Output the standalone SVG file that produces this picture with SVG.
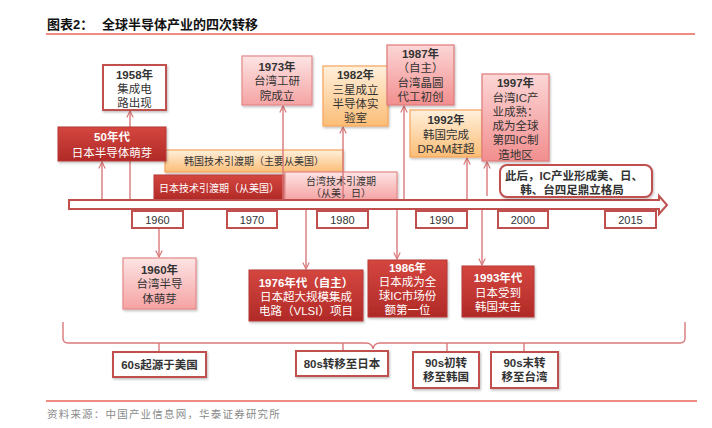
<svg xmlns="http://www.w3.org/2000/svg" width="712" height="428" viewBox="0 0 712 428">
<defs>
<linearGradient id="gDark" x1="0" y1="0" x2="0" y2="1"><stop offset="0" stop-color="#d4463f"/><stop offset="1" stop-color="#b02a27"/></linearGradient>
<linearGradient id="gPink" x1="0" y1="0" x2="0" y2="1"><stop offset="0" stop-color="#fde4e4"/><stop offset="1" stop-color="#f5a3a3"/></linearGradient>
<linearGradient id="gPink2" x1="0" y1="0" x2="0" y2="1"><stop offset="0" stop-color="#fcd6d6"/><stop offset="1" stop-color="#f28e8e"/></linearGradient>
<linearGradient id="gOrange" x1="0" y1="0" x2="0" y2="1"><stop offset="0" stop-color="#fff0dc"/><stop offset="1" stop-color="#fbbd76"/></linearGradient>
<filter id="sh" x="-10%" y="-10%" width="130%" height="140%"><feDropShadow dx="1" dy="1.5" stdDeviation="1" flood-color="#000" flood-opacity="0.25"/></filter>
<marker id="arr" viewBox="0 0 10 10" refX="9" refY="5" markerWidth="8" markerHeight="8" markerUnits="userSpaceOnUse" orient="auto"><path d="M1,1 L9,5 L1,9" fill="none" stroke="#d9787a" stroke-width="1.5"/></marker>
<style>
text{font-family:"Liberation Sans","Noto Sans CJK SC",sans-serif;text-anchor:middle;}
.t{font-size:11.5px;fill:#333;}
.w{font-size:11.5px;fill:#fff;}
.s{font-size:10px;fill:#333;}
.sw{font-size:10px;fill:#fff;}
.b{font-weight:bold;}
.dark{fill:url(#gDark);stroke:#b53a36;stroke-width:1;filter:url(#sh);}
.pink{fill:url(#gPink);stroke:#e5898a;stroke-width:1.2;filter:url(#sh);}
.pink2{fill:url(#gPink2);stroke:#e07a7c;stroke-width:1.2;filter:url(#sh);}
.orange{fill:url(#gOrange);stroke:#f5a55c;stroke-width:1.2;filter:url(#sh);}
.white{fill:#fff;stroke:#c0504d;stroke-width:2;filter:url(#sh);}
.yr{fill:#fff;stroke:#c0504d;stroke-width:2;}
.ln{fill:none;stroke:#d9787a;stroke-width:1.4;}
.yt{font-size:11px;fill:#333;}
</style>
</defs>
<rect width="712" height="428" fill="#fff"/>

<g id="title">
<text x="47" y="29" style="text-anchor:start;font-size:13px;font-weight:bold;fill:#111">图表2：</text>
<text x="102" y="29" style="text-anchor:start;font-size:13px;font-weight:bold;fill:#111">全球半导体产业的四次转移</text>
<line x1="46" y1="34" x2="695" y2="34" stroke="#e8665a" stroke-width="1.5"/>
</g>

<g id="bar-korea">
<rect class="orange" x="165" y="150" width="178" height="22"/>
<text class="s" x="254" y="165">韩国技术引渡期（主要从美国）</text>
</g>
<g id="bar-japan">
<rect class="dark" x="154" y="175" width="130" height="25"/>
<text class="sw" x="219" y="192">日本技术引渡期（从美国）</text>
</g>
<g id="bar-taiwan">
<rect class="pink" x="285" y="172" width="112" height="28"/>
<text class="s" x="341" y="185">台湾技术引渡期</text>
<text class="s" x="341" y="197">（从美，日）</text>
</g>

<g id="connectors">
<line class="ln" x1="102" y1="200" x2="102" y2="162" marker-end="url(#arr)"/>
<line class="ln" x1="130" y1="200" x2="130" y2="111" marker-end="url(#arr)"/>
<line class="ln" x1="283" y1="200" x2="283" y2="106" marker-end="url(#arr)"/>
<line class="ln" x1="343" y1="200" x2="343" y2="127" marker-end="url(#arr)"/>
<line class="ln" x1="404" y1="200" x2="404" y2="106" marker-end="url(#arr)"/>
<line class="ln" x1="467" y1="200" x2="467" y2="158" marker-end="url(#arr)"/>
<line class="ln" x1="487" y1="196" x2="487" y2="162" marker-end="url(#arr)"/>
<line class="ln" x1="159" y1="209" x2="159" y2="257" marker-end="url(#arr)"/>
<line class="ln" x1="306" y1="209" x2="306" y2="269" marker-end="url(#arr)"/>
<line class="ln" x1="397" y1="209" x2="397" y2="259" marker-end="url(#arr)"/>
<line class="ln" x1="482" y1="205" x2="482" y2="265" marker-end="url(#arr)"/>
<path class="ln" d="M63,322 L63,338 Q63,343 68,343 L366,343 Q372,343 373,349 Q374,343 380,343 L680,343 Q685,343 685,338 L685,322"/>
<line class="ln" x1="159" y1="343" x2="159" y2="352"/>
<line class="ln" x1="343" y1="343" x2="343" y2="351"/>
<line class="ln" x1="447" y1="343" x2="447" y2="352"/>
<line class="ln" x1="524" y1="343" x2="524" y2="352"/>
</g>

<g id="timeline">
<path d="M69,200 L659,200 L659,196 L667,205 L659,214 L659,209 L69,209 Z" fill="#fff" stroke="#c0504d" stroke-width="2" stroke-linejoin="miter"/>
<rect class="yr" x="132" y="211" width="51" height="17"/><text class="yt" x="157.5" y="224">1960</text>
<rect class="yr" x="227" y="211" width="50" height="17"/><text class="yt" x="252" y="224">1970</text>
<rect class="yr" x="317" y="211" width="51" height="17"/><text class="yt" x="342.5" y="224">1980</text>
<rect class="yr" x="416" y="211" width="51" height="17"/><text class="yt" x="441.5" y="224">1990</text>
<rect class="yr" x="498" y="211" width="50" height="17"/><text class="yt" x="523" y="224">2000</text>
<rect class="yr" x="605" y="211" width="51" height="17"/><text class="yt" x="630.5" y="224">2015</text>
</g>

<g id="n1958">
<rect class="white" x="103" y="65" width="63" height="45"/>
<text class="t b" x="134.5" y="79">1958年</text>
<text class="t" x="134.5" y="93">集成电</text>
<text class="t" x="134.5" y="107">路出现</text>
</g>
<g id="n50s">
<rect class="dark" x="58" y="127" width="108" height="34"/>
<text class="w b" x="112" y="141">50年代</text>
<text class="w" x="112" y="157">日本半导体萌芽</text>
</g>
<g id="n1973">
<rect class="pink" x="242" y="56" width="70" height="49"/>
<text class="t b" x="277" y="71">1973年</text>
<text class="t" x="277" y="85">台湾工研</text>
<text class="t" x="277" y="100">院成立</text>
</g>
<g id="n1982">
<rect class="orange" x="323" y="66" width="65" height="60"/>
<text class="t b" x="355.5" y="79">1982年</text>
<text class="t" x="355.5" y="94">三星成立</text>
<text class="t" x="355.5" y="108">半导体实</text>
<text class="t" x="355.5" y="122">验室</text>
</g>
<g id="n1987">
<rect class="pink2" x="387" y="45" width="67" height="60"/>
<text class="t b" x="420.5" y="58">1987年</text>
<text class="t" x="420.5" y="72">（自主）</text>
<text class="t" x="420.5" y="87">台湾晶圆</text>
<text class="t" x="420.5" y="101">代工初创</text>
</g>
<g id="n1992">
<rect class="orange" x="410" y="110" width="72" height="47"/>
<text class="t b" x="446" y="124">1992年</text>
<text class="t" x="446" y="139">韩国完成</text>
<text class="t" x="446" y="153">DRAM赶超</text>
</g>
<g id="n1997">
<rect class="pink2" x="482" y="74" width="67" height="87"/>
<text class="t b" x="515.5" y="87">1997年</text>
<text class="t" x="515.5" y="102">台湾IC产</text>
<text class="t" x="515.5" y="116">业成熟：</text>
<text class="t" x="515.5" y="130">成为全球</text>
<text class="t" x="515.5" y="144">第四IC制</text>
<text class="t" x="515.5" y="159">造地区</text>
</g>
<g id="nafter">
<rect class="white" x="500" y="165" width="152" height="32" rx="7"/>
<text class="t b" x="574" y="180">此后，IC产业形成美、日、</text>
<text class="t b" x="572" y="194">韩、台四足鼎立格局</text>
</g>

<g id="n1960">
<rect class="pink" x="123" y="258" width="73" height="51"/>
<text class="t b" x="159.5" y="274">1960年</text>
<text class="t" x="159.5" y="288">台湾半导</text>
<text class="t" x="159.5" y="303">体萌芽</text>
</g>
<g id="n1976">
<rect class="dark" x="249" y="270" width="114" height="51"/>
<text class="w b" x="306" y="287">1976年代（自主）</text>
<text class="w" x="306" y="301">日本超大规模集成</text>
<text class="w" x="306" y="315">电路（VLSI）项目</text>
</g>
<g id="n1986">
<rect class="dark" x="368" y="260" width="79" height="57"/>
<text class="w b" x="407.5" y="272">1986年</text>
<text class="w" x="407.5" y="286">日本成为全</text>
<text class="w" x="407.5" y="300">球IC市场份</text>
<text class="w" x="407.5" y="314">额第一位</text>
</g>
<g id="n1993">
<rect class="dark" x="462" y="266" width="72" height="51"/>
<text class="w b" x="498" y="282">1993年代</text>
<text class="w" x="498" y="297">日本受到</text>
<text class="w" x="498" y="311">韩国夹击</text>
</g>

<g id="p60s">
<rect class="white" x="113" y="352" width="93" height="25"/>
<text class="t b" x="159.5" y="369">60s起源于美国</text>
</g>
<g id="p80s">
<rect class="white" x="296" y="351" width="92" height="25"/>
<text class="t b" x="342" y="368">80s转移至日本</text>
</g>
<g id="p90a">
<rect class="white" x="413" y="352" width="66" height="36"/>
<text class="t b" x="446" y="367">90s初转</text>
<text class="t b" x="446" y="381">移至韩国</text>
</g>
<g id="p90b">
<rect class="white" x="491" y="352" width="67" height="36"/>
<text class="t b" x="524.5" y="367">90s末转</text>
<text class="t b" x="524.5" y="381">移至台湾</text>
</g>

<g id="footer">
<line x1="46" y1="401" x2="697" y2="401" stroke="#e8665a" stroke-width="1.5"/>
<text x="47" y="418" style="text-anchor:start;font-size:10.5px;letter-spacing:1.2px;fill:#8a8a8a">资料来源：中国产业信息网，华泰证券研究所</text>
</g>
</svg>
